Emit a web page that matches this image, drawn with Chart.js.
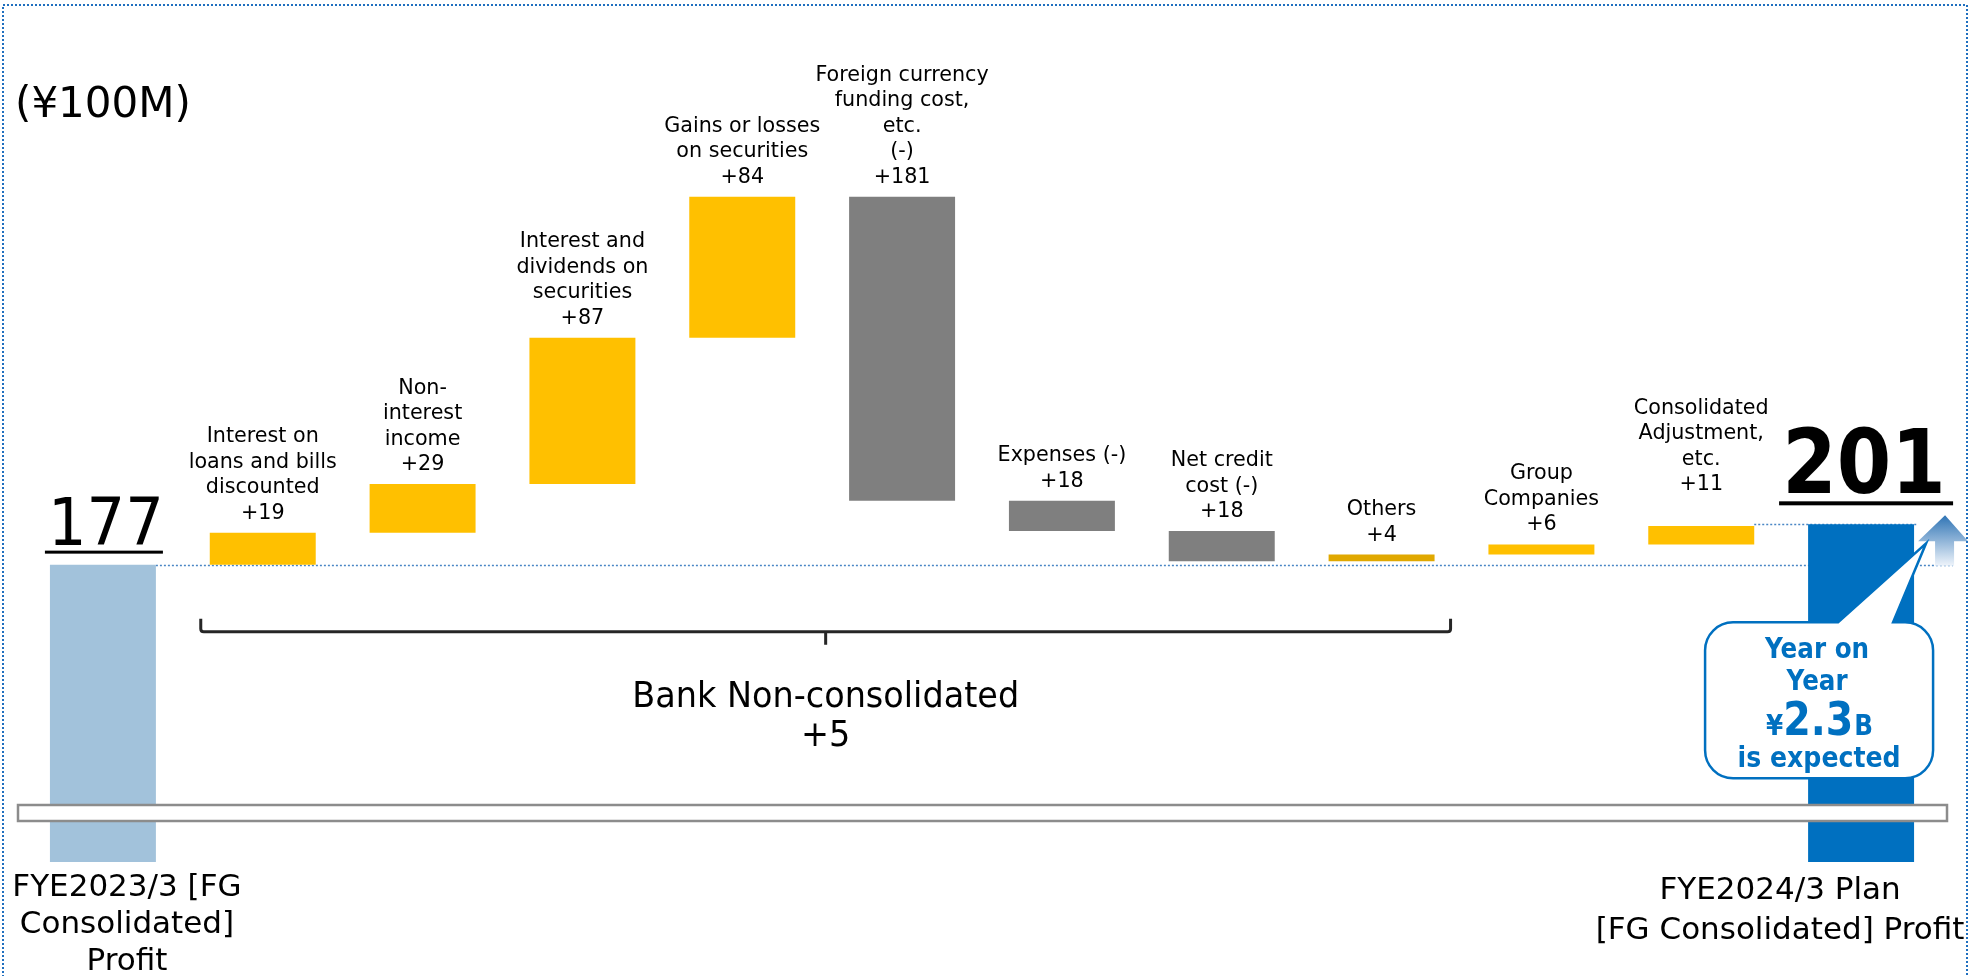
<!DOCTYPE html>
<html>
<head>
<meta charset="utf-8">
<title>Profit bridge</title>
<script src="https://cdn.jsdelivr.net/npm/chart.js@4.4.1/dist/chart.umd.min.js"></script>
<style>
  html, body { margin: 0; padding: 0; background: #fff; }
  canvas { display: block; }
</style>
</head>
<body>
<canvas id="bridge-chart" width="1970" height="976"></canvas>
<script>
// values in ¥100M
const unitLabel = '(¥100M)';
const startLabel = ['FYE2023/3 [FG', 'Consolidated]', 'Profit'];
const endLabel = ['FYE2024/3 Plan', '[FG Consolidated] Profit'];
const startValue = 177;
const endValue = 201;

const stepLabels = [
    ['Interest on', 'loans and bills', 'discounted'],
    ['Non-', 'interest', 'income'],
    ['Interest and', 'dividends on', 'securities'],
    ['Gains or losses', 'on securities'],
    ['Foreign currency', 'funding cost,', 'etc.', '(-)'],
    ['Expenses (-)'],
    ['Net credit', 'cost (-)'],
    ['Others'],
    ['Group', 'Companies'],
    ['Consolidated', 'Adjustment,', 'etc.']
];
const stepValues = [19, 29, 87, 84, -181, -18, -18, 4, 6, 11];

const groupLabel = ['Bank Non-consolidated', '+5'];
const calloutLines = ['Year on', 'Year'];
const calloutAmount = ['¥', '2.3', 'B'];
const calloutTail = 'is expected';

// colours
const startColor = '#A2C2DB';
const endColor = '#0070C0';
const stepColors = ['#FFC000', '#FFC000', '#FFC000', '#FFC000', '#7F7F7F',
                    '#7F7F7F', '#7F7F7F', '#E0A800', '#FFC000', '#FFC000'];
const FONT = '"DejaVu Sans", "Liberation Sans", sans-serif';


// floating bars: [from, to]
let barData = [[0, startValue]];
let running = startValue;
for (let i = 0; i < stepValues.length; i++) {
    barData.push([running, running + stepValues[i]]);
    running += stepValues[i];
}
barData.push([0, endValue]);

const labels = [startLabel.join(' ')].concat(stepLabels.map(l => l.join(' ')), [endLabel.join(' ')]);
const colors = [startColor].concat(stepColors, [endColor]);


// narrow text helper (sx squeezes the glyphs horizontally)
function drawText(ctx, str, x, y, size, opts) {
    opts = opts || {};
    ctx.save();
    ctx.font = (opts.bold ? 'bold ' : '') + size + 'px ' + FONT;
    ctx.fillStyle = opts.color || '#000';
    ctx.textAlign = opts.align || 'center';
    ctx.textBaseline = 'alphabetic';
    ctx.translate(x, y);
    ctx.scale(opts.sx || 1, 1);
    ctx.fillText(str, 0, 0);
    ctx.restore();
}

function textWidth(ctx, str, size, bold, sx) {
    ctx.save();
    ctx.font = (bold ? 'bold ' : '') + size + 'px ' + FONT;
    let w = ctx.measureText(str).width * (sx || 1);
    ctx.restore();
    return w;
}


const bridgeDecor = {
    id: 'bridgeDecor',

    beforeDatasetsDraw(chart) {
        const ctx = chart.ctx;
        const meta = chart.getDatasetMeta(0);
        const ys = chart.scales.y;
        const first = meta.data[0];
        const last = meta.data[meta.data.length - 1];
        const prev = meta.data[meta.data.length - 2];
        const lastRight = last.x + last.width / 2;

        ctx.save();
        ctx.setLineDash([2, 2]);
        ctx.strokeStyle = '#4A86C5';
        ctx.lineWidth = 1.5;
        ctx.beginPath();
        let y0 = Math.round(ys.getPixelForValue(startValue)) + 0.5;
        ctx.moveTo(first.x + first.width / 2, y0);
        ctx.lineTo(lastRight + 39, y0);
        let y1 = Math.round(ys.getPixelForValue(endValue)) + 0.5;
        ctx.moveTo(prev.x + prev.width / 2, y1);
        ctx.lineTo(lastRight + 3, y1);
        ctx.stroke();
        ctx.restore();
    },

    afterDatasetsDraw(chart) {
        const ctx = chart.ctx;
        const meta = chart.getDatasetMeta(0);
        const ys = chart.scales.y;
        const area = chart.chartArea;
        const bars = meta.data;
        const first = bars[0];
        const last = bars[bars.length - 1];
        const startY = ys.getPixelForValue(startValue);

        // broken axis strip
        ctx.save();
        ctx.fillStyle = '#fff';
        ctx.strokeStyle = '#8C8C8C';
        ctx.lineWidth = 2.5;
        ctx.fillRect(18, area.bottom - 57, 1929, 16);
        ctx.strokeRect(18, area.bottom - 57, 1929, 16);
        ctx.restore();

        // unit
        drawText(ctx, unitLabel, 15, 117, 42, { align: 'left' });

        // step labels
        for (let i = 0; i < stepValues.length; i++) {
            let el = bars[i + 1];
            let top = Math.min(el.y, el.base);
            let lines = stepLabels[i].concat(['+' + Math.abs(stepValues[i])]);
            let lift = (i == stepValues.length - 1) ? 22 : 0;
            let base = top - 14 - lift;
            for (let j = lines.length - 1; j >= 0; j--) {
                drawText(ctx, lines[j], el.x, base - (lines.length - 1 - j) * 25.5, 22, { sx: 0.94 });
            }
        }

        // start total
        let t0 = Math.min(first.y, first.base);
        drawText(ctx, String(startValue), first.x + 3, t0 - 20, 66, { sx: 0.92 });
        ctx.fillStyle = '#000';
        ctx.fillRect(first.x - 58, t0 - 14, 118, 3);

        // end total
        let t1 = Math.min(last.y, last.base);
        drawText(ctx, String(endValue), last.x + 3, t1 - 31, 89, { bold: true, sx: 0.88 });
        ctx.fillRect(last.x - 82, t1 - 23, 174, 4);

        // bottom captions
        startLabel.forEach(function (s, k) {
            drawText(ctx, s, first.x + 24, area.bottom + 34 + k * 37, 31);
        });
        endLabel.forEach(function (s, k) {
            drawText(ctx, s, last.x - 81, area.bottom + 37 + k * 40, 31);
        });

        // bracket over the bank items
        let b1 = bars[1], b8 = bars[8];
        let bl = b1.x - b1.width / 2 - 9;
        let br = b8.x + b8.width / 2 + 16;
        let by = startY + 67;
        let bm = (bl + br) / 2;
        ctx.save();
        ctx.strokeStyle = '#262626';
        ctx.lineWidth = 3;
        ctx.lineJoin = 'round';
        ctx.beginPath();
        ctx.moveTo(bl, by - 13);
        ctx.lineTo(bl, by - 3);
        ctx.quadraticCurveTo(bl, by, bl + 3, by);
        ctx.lineTo(br - 3, by);
        ctx.quadraticCurveTo(br, by, br, by - 3);
        ctx.lineTo(br, by - 13);
        ctx.moveTo(bm, by);
        ctx.lineTo(bm, by + 13);
        ctx.stroke();
        ctx.restore();
        drawText(ctx, groupLabel[0], bm, by + 75, 36, { sx: 0.93 });
        drawText(ctx, groupLabel[1], bm, by + 114, 36, { sx: 0.93 });

        // up arrow beside the plan bar
        let ex = last.x + last.width / 2;
        let tipY = t1 - 9;
        let grad = ctx.createLinearGradient(0, tipY, 0, startY);
        grad.addColorStop(0, '#2F74B5');
        grad.addColorStop(1, '#EAF1F9');
        ctx.save();
        ctx.fillStyle = grad;
        ctx.beginPath();
        ctx.moveTo(ex + 31, tipY);
        ctx.lineTo(ex + 54, t1 + 17);
        ctx.lineTo(ex + 40, t1 + 17);
        ctx.lineTo(ex + 40, startY + 1);
        ctx.lineTo(ex + 21, startY + 1);
        ctx.lineTo(ex + 21, t1 + 17);
        ctx.lineTo(ex + 4, t1 + 17);
        ctx.closePath();
        ctx.fill();
        ctx.restore();

        // callout
        let cx = last.x;
        let x0 = cx - 156, x1 = cx + 72, y0 = t1 + 98, y1 = t1 + 254, r = 28;
        ctx.save();
        ctx.beginPath();
        ctx.moveTo(x0 + r, y0);
        ctx.lineTo(cx - 23, y0);
        ctx.lineTo(cx + 65, t1 + 19);
        ctx.lineTo(cx + 32, y0);
        ctx.lineTo(x1 - r, y0);
        ctx.arcTo(x1, y0, x1, y0 + r, r);
        ctx.lineTo(x1, y1 - r);
        ctx.arcTo(x1, y1, x1 - r, y1, r);
        ctx.lineTo(x0 + r, y1);
        ctx.arcTo(x0, y1, x0, y1 - r, r);
        ctx.lineTo(x0, y0 + r);
        ctx.arcTo(x0, y0, x0 + r, y0, r);
        ctx.closePath();
        ctx.fillStyle = '#fff';
        ctx.fill();
        ctx.strokeStyle = '#0070C0';
        ctx.lineWidth = 2.5;
        ctx.stroke();
        ctx.restore();

        let tx = cx - 44;
        let blue = { bold: true, color: '#0070C0', sx: 0.88 };
        drawText(ctx, calloutLines[0], tx, t1 + 134, 28, blue);
        drawText(ctx, calloutLines[1], tx, t1 + 166, 28, blue);
        let w1 = textWidth(ctx, calloutAmount[0], 28, true, 0.88);
        let w2 = textWidth(ctx, calloutAmount[1], 46, true, 0.86);
        let w3 = textWidth(ctx, calloutAmount[2], 28, true, 0.88);
        let ax = tx + 2 - (w1 + w2 + w3) / 2;
        let left = { bold: true, color: '#0070C0', sx: 0.88, align: 'left' };
        drawText(ctx, calloutAmount[0], ax, t1 + 211, 28, left);
        drawText(ctx, calloutAmount[1], ax + w1, t1 + 211, 46, { bold: true, color: '#0070C0', sx: 0.86, align: 'left' });
        drawText(ctx, calloutAmount[2], ax + w1 + w2 + 1, t1 + 211, 28, left);
        drawText(ctx, calloutTail, tx + 2, t1 + 243, 28, { bold: true, color: '#0070C0', sx: 0.9 });

        // slide frame
        ctx.save();
        ctx.setLineDash([2, 2]);
        ctx.strokeStyle = '#1F6FBF';
        ctx.lineWidth = 2;
        ctx.strokeRect(3, 5, 1964, 1000);
        ctx.restore();
    }
};


window.addEventListener('load', function () {
    new Chart(document.getElementById('bridge-chart'), {
        type: 'bar',
        data: {
            labels: labels,
            datasets: [{
                data: barData,
                backgroundColor: colors,
                borderWidth: 0,
                barPercentage: 0.663,
                categoryPercentage: 1
            }]
        },
        options: {
            responsive: false,
            animation: false,
            devicePixelRatio: 1,
            events: [],
            layout: { padding: { left: 23, right: 29, top: 22, bottom: 114 } },
            plugins: { legend: { display: false }, tooltip: { enabled: false } },
            scales: {
                x: { display: false },
                y: { display: false, min: 0, max: 500 }
            }
        },
        plugins: [bridgeDecor]
    });
});
</script>
</body>
</html>
